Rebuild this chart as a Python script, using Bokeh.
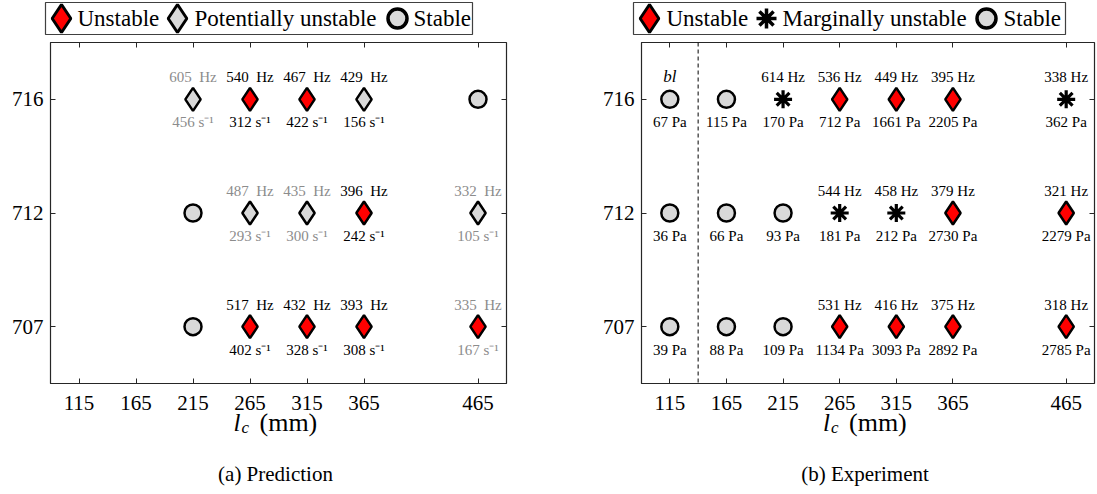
from bokeh.plotting import figure
from bokeh.models import (Range1d, FactorRange, FixedTicker, LinearAxis, CategoricalAxis,
                          ColumnDataSource, Span)
from bokeh.layouts import row, column
from bokeh.embed import file_html
from bokeh.resources import INLINE
from bokeh.core.properties import value

FONT = "Liberation Serif"
AXIS = "#262626"
RED = "#ff0000"
LIGHT = "#d9d9d9"
FADED = "#8c8c8c"

# ---------------- data ----------------
x_ticks = [115, 165, 215, 265, 315, 365, 465]
tc_levels = ["707", "712", "716"]

# (a) Prediction
pred_lc = [215, 265, 315, 365, 465,
           215, 265, 315, 365, 465,
           215, 265, 315, 365, 465]
pred_tc = ["716"] * 5 + ["712"] * 5 + ["707"] * 5
pred_state = ["potential", "unstable", "unstable", "potential", "stable",
              "stable", "potential", "potential", "unstable", "potential",
              "stable", "unstable", "unstable", "unstable", "unstable"]
pred_freq = [605, 540, 467, 429, None,
             None, 487, 435, 396, 332,
             None, 517, 432, 393, 335]
pred_rate = [456, 312, 422, 156, None,
             None, 293, 300, 242, 105,
             None, 402, 328, 308, 167]
pred_faded = [True, False, False, False, False,
              False, True, True, False, True,
              False, False, False, False, True]

# (b) Experiment
exp_lc = [115, 165, 215, 265, 315, 365, 465] * 3
exp_tc = ["716"] * 7 + ["712"] * 7 + ["707"] * 7
exp_state = ["stable", "stable", "marginal", "unstable", "unstable", "unstable", "marginal",
             "stable", "stable", "stable", "marginal", "marginal", "unstable", "unstable",
             "stable", "stable", "stable", "unstable", "unstable", "unstable", "unstable"]
exp_freq = [None, None, 614, 536, 449, 395, 338,
            None, None, None, 544, 458, 379, 321,
            None, None, None, 531, 416, 375, 318]
exp_pressure = [67, 115, 170, 712, 1661, 2205, 362,
                36, 66, 93, 181, 212, 2730, 2279,
                39, 88, 109, 1134, 3093, 2892, 2785]
bl_boundary = 140
bl_label = "bl"

pred_legend = [("unstable", "Unstable"), ("potential", "Potentially unstable"), ("stable", "Stable")]
exp_legend = [("unstable", "Unstable"), ("marginal", "Marginally unstable"), ("stable", "Stable")]

# ---------------- styles ----------------
MARKER = {"unstable": "diamond", "potential": "diamond", "marginal": "asterisk", "stable": "circle"}
FILL = {"unstable": RED, "potential": LIGHT, "marginal": "black", "stable": LIGHT}
SIZE = {"unstable": 23, "potential": 23, "marginal": 18, "stable": 17}
LW = {"unstable": 2.5, "potential": 2.5, "marginal": 3.2, "stable": 2.5}
LEG_SIZE = {"unstable": 28, "potential": 28, "marginal": 20, "stable": 19}
LEG_LW = {"unstable": 3, "potential": 3, "marginal": 3.5, "stable": 3.5}


def style_axis(ax, labels=True):
    ax.axis_line_color = AXIS
    ax.major_tick_line_color = AXIS
    ax.major_tick_in = 5
    ax.major_tick_out = 0
    ax.minor_tick_line_color = None
    ax.major_label_text_font = FONT
    ax.major_label_text_font_size = "21px"
    ax.major_label_text_color = "black"
    if not labels:
        ax.major_label_text_font_size = "0px"
        ax.major_label_text_color = None
        ax.major_label_standoff = 0
        ax.axis_line_color = None


def make_panel(lc, tc, state, top, bottom, colors, width, b_left, b_right):
    p = figure(width=width, height=348, x_range=Range1d(90, 490),
               y_range=FactorRange(factors=tc_levels),
               output_backend="svg", toolbar_location=None, frame_align=False,
               min_border_left=b_left, min_border_right=b_right,
               min_border_top=6, min_border_bottom=1)
    p.grid.visible = False
    p.outline_line_color = AXIS
    p.outline_line_width = 1.2

    # bottom axis: ticks only (its labels are written in the strip below)
    p.xaxis.ticker = FixedTicker(ticks=x_ticks, minor_ticks=[])
    style_axis(p.xaxis[0], labels=False)
    p.xaxis.major_label_overrides = {t: "" for t in x_ticks}
    style_axis(p.yaxis[0])
    p.yaxis.major_label_standoff = 7

    top_ax = LinearAxis(ticker=FixedTicker(ticks=x_ticks, minor_ticks=[]))
    style_axis(top_ax, labels=False)
    top_ax.major_label_overrides = {t: "" for t in x_ticks}
    p.add_layout(top_ax, "above")
    right_ax = CategoricalAxis()
    style_axis(right_ax, labels=False)
    right_ax.major_label_overrides = {t: "" for t in tc_levels}
    p.add_layout(right_ax, "right")

    src = ColumnDataSource(dict(
        lc=lc, tc=tc,
        marker=[MARKER[s] for s in state],
        fill=[FILL[s] for s in state],
        size=[SIZE[s] for s in state],
        lw=[LW[s] for s in state]))
    p.scatter(x="lc", y="tc", marker="marker", size="size", fill_color="fill",
              line_color="black", line_width="lw", source=src)

    for texts, dy in ((top, -22), (bottom, 23)):
        idx = [i for i, t in enumerate(texts) if t is not None]
        s = ColumnDataSource(dict(lc=[lc[i] for i in idx], tc=[tc[i] for i in idx],
                                  text=[texts[i] for i in idx],
                                  color=[colors[i] for i in idx]))
        p.text(x="lc", y="tc", text="text", text_color="color", text_font=value(FONT),
               text_font_size="15px", text_align="center", text_baseline="middle",
               y_offset=dy, source=s)
    return p


def make_legend(entries, marker_x, text_x, width, b_left, b_right, frame_w):
    lf = figure(width=width, height=36, x_range=Range1d(0, frame_w), y_range=Range1d(0, 32),
                x_axis_type=None, y_axis_type=None, output_backend="svg",
                toolbar_location=None, frame_align=False,
                min_border_left=b_left, min_border_right=b_right,
                min_border_top=2, min_border_bottom=2)
    lf.grid.visible = False
    lf.outline_line_color = "#404040"
    lf.outline_line_width = 1.2
    for (state, label), mx, tx in zip(entries, marker_x, text_x):
        lf.scatter([mx], [16], marker=MARKER[state], size=LEG_SIZE[state],
                   fill_color=FILL[state], line_color="black", line_width=LEG_LW[state])
        lf.text([tx], [16], text=[label], text_font=value(FONT), text_font_size="23px",
                text_color="black", text_align="left", text_baseline="middle")
    return lf


def make_bottom(p, caption, width, b_left, b_right):
    """Strip under the plot: x tick labels, axis title l_c (mm), and the caption."""
    xr = p.x_range
    tf = figure(width=width, height=110, x_range=xr, y_range=Range1d(0, 110),
                x_axis_type=None, y_axis_type=None, output_backend="svg",
                toolbar_location=None, frame_align=False,
                min_border_left=b_left, min_border_right=b_right,
                min_border_top=0, min_border_bottom=0)
    tf.grid.visible = False
    tf.outline_line_color = None
    tf.text(x=x_ticks, y=[92] * len(x_ticks), text=[str(t) for t in x_ticks],
            text_font=value(FONT), text_font_size="21px", text_color="black",
            text_align="center", text_baseline="middle")
    xc = (xr.start + xr.end) / 2
    tf.text([xc], [72], text=["l"], x_offset=-45, text_font=value(FONT),
            text_font_style="italic", text_font_size="25px", text_color="black",
            text_baseline="middle")
    tf.text([xc], [67], text=["c"], x_offset=-37, text_font=value(FONT),
            text_font_style="italic", text_font_size="17px", text_color="black",
            text_baseline="middle")
    tf.text([xc], [72], text=["(mm)"], x_offset=-19, text_font=value(FONT),
            text_font_size="26px", text_color="black", text_baseline="middle")
    tf.text([xc], [21], text=[caption], x_offset=-3, text_font=value(FONT),
            text_font_size="21px", text_color="black", text_align="center",
            text_baseline="middle")
    return tf


# ---- prediction panel ----
pred_top = [None if f is None else f"{f}\u2002Hz" for f in pred_freq]
pred_bot = [None if r is None else f"{r} s\u207b\u00b9" for r in pred_rate]
pred_col = [FADED if g else "black" for g in pred_faded]
W1, W2 = 595, 501
p1 = make_panel(pred_lc, pred_tc, pred_state, pred_top, pred_bot, pred_col, W1, 50, 89)
l1 = make_legend(pred_legend, [16, 132, 352], [32, 149, 368], W1, 45, 123, 427)
t1 = make_bottom(p1, "(a) Prediction", W1, 50, 89)

# ---- experiment panel ----
exp_top = [None if f is None else f"{f} Hz" for f in exp_freq]
exp_bot = [f"{v} Pa" for v in exp_pressure]
exp_col = ["black"] * len(exp_lc)
p2 = make_panel(exp_lc, exp_tc, exp_state, exp_top, exp_bot, exp_col, W2, 46, 2)
p2.add_layout(Span(location=bl_boundary, dimension="height", line_color="black",
                   line_width=1, line_dash="4 3"))
p2.text(x=[exp_lc[0]], y=[exp_tc[0]], text=[bl_label], text_font=value(FONT),
        text_font_style="italic", text_font_size="17px", text_color="black",
        text_align="center", text_baseline="middle", y_offset=-23)
l2 = make_legend(exp_legend, [16, 133, 353], [33, 149, 370], W2, 38, 31, 432)
t2 = make_bottom(p2, "(b) Experiment", W2, 46, 2)

layout = row(column(l1, p1, t1), column(l2, p2, t2))
open("out.html", "w").write(file_html(layout, INLINE))
